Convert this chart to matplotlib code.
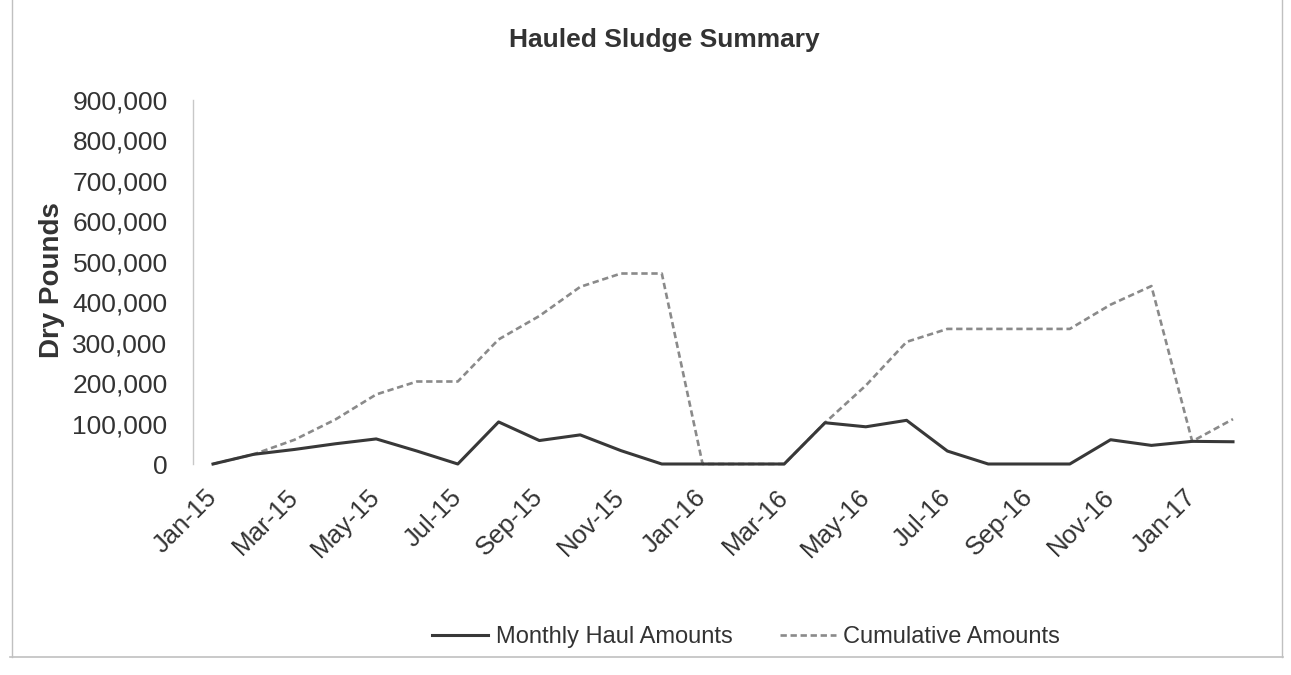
import matplotlib
matplotlib.use("Agg")
import matplotlib.pyplot as plt
from matplotlib.ticker import FuncFormatter, FixedLocator
from matplotlib.lines import Line2D

plt.rcParams['font.family'] = ['Liberation Sans', 'DejaVu Sans']

months = ["Jan-15", "Feb-15", "Mar-15", "Apr-15", "May-15", "Jun-15", "Jul-15",
          "Aug-15", "Sep-15", "Oct-15", "Nov-15", "Dec-15",
          "Jan-16", "Feb-16", "Mar-16", "Apr-16", "May-16", "Jun-16", "Jul-16",
          "Aug-16", "Sep-16", "Oct-16", "Nov-16", "Dec-16",
          "Jan-17", "Feb-17"]

monthly_haul = [0, 24000, 36000, 50000, 62000, 32000, 0,
                104000, 58000, 72000, 33000, 0,
                0, 0, 0, 102000, 92000, 108000, 32000,
                0, 0, 0, 60000, 46000,
                56000, 55000]

cumulative = [0, 24000, 60000, 110000, 172000, 204000, 204000,
              308000, 366000, 438000, 471000, 471000,
              0, 0, 0, 102000, 194000, 302000, 334000,
              334000, 334000, 334000, 394000, 440000,
              56000, 111000]

y_ticks = [0, 100000, 200000, 300000, 400000, 500000, 600000, 700000, 800000, 900000]

W, H = 1291, 675
fig = plt.figure(figsize=(W / 100, H / 100), dpi=100)
left, right = 192.6 / W, 1253.4 / W
bottom, top = (H - 464) / H, (H - 100) / H
ax = fig.add_axes([left, bottom, right - left, top - bottom])

text_color = "#333333"
x = list(range(len(months)))

ax.plot(x, cumulative, color="#8a8a8a", lw=1.9, linestyle=(0, (2.4, 1.4)),
        label="Cumulative Amounts", clip_on=False, zorder=2)
ax.plot(x, monthly_haul, color="#383838", lw=2.2, label="Monthly Haul Amounts",
        clip_on=False, zorder=3)

ax.set_xlim(-0.5, len(months) - 0.5)
ax.set_ylim(0, 900000)
ax.yaxis.set_major_locator(FixedLocator(y_ticks))
ax.yaxis.set_major_formatter(FuncFormatter(lambda v, p: f"{v:,.0f}"))
ax.set_xticks(x[::2])
ax.set_xticklabels(months[::2], rotation=45, ha="right", va="center",
                   rotation_mode="anchor")

ax.tick_params(axis="y", length=0, pad=18, labelsize=19, labelcolor=text_color)
ax.tick_params(axis="x", length=0, pad=21, labelsize=18.5, labelcolor=text_color)

for s in ["top", "right", "bottom"]:
    ax.spines[s].set_visible(False)
ax.spines["left"].set_color("#c8c8c8")
ax.spines["left"].set_linewidth(1.0)

fig.text(664 / W, (H - 40) / H, "Hauled Sludge Summary", ha="center", va="center",
         fontsize=19, fontweight="bold", color=text_color)
fig.text(52 / W, (H - 280) / H, "Dry Pounds", rotation=90, ha="center", va="center",
         fontsize=20, fontweight="bold", color=text_color)

handles, labels = ax.get_legend_handles_labels()
order = [1, 0]
leg = fig.legend([handles[i] for i in order], [labels[i] for i in order],
                 loc="center", bbox_to_anchor=(746 / W, (H - 637) / H), ncol=2,
                 frameon=False, fontsize=17, handlelength=2.4, handletextpad=0.3,
                 columnspacing=2.0)
for t in leg.get_texts():
    t.set_color(text_color)

# outer chart border (light)
border = "#c0c0c0"
fig.add_artist(Line2D([10 / W, 1283 / W], [(H - 657) / H, (H - 657) / H],
                      transform=fig.transFigure, color=border, lw=1.2))
fig.add_artist(Line2D([12 / W, 12 / W], [(H - 657) / H, 1.0],
                      transform=fig.transFigure, color=border, lw=1.0))
fig.add_artist(Line2D([1282 / W, 1282 / W], [(H - 657) / H, 1.0],
                      transform=fig.transFigure, color=border, lw=1.0))

fig.savefig("out.png", dpi=100)
